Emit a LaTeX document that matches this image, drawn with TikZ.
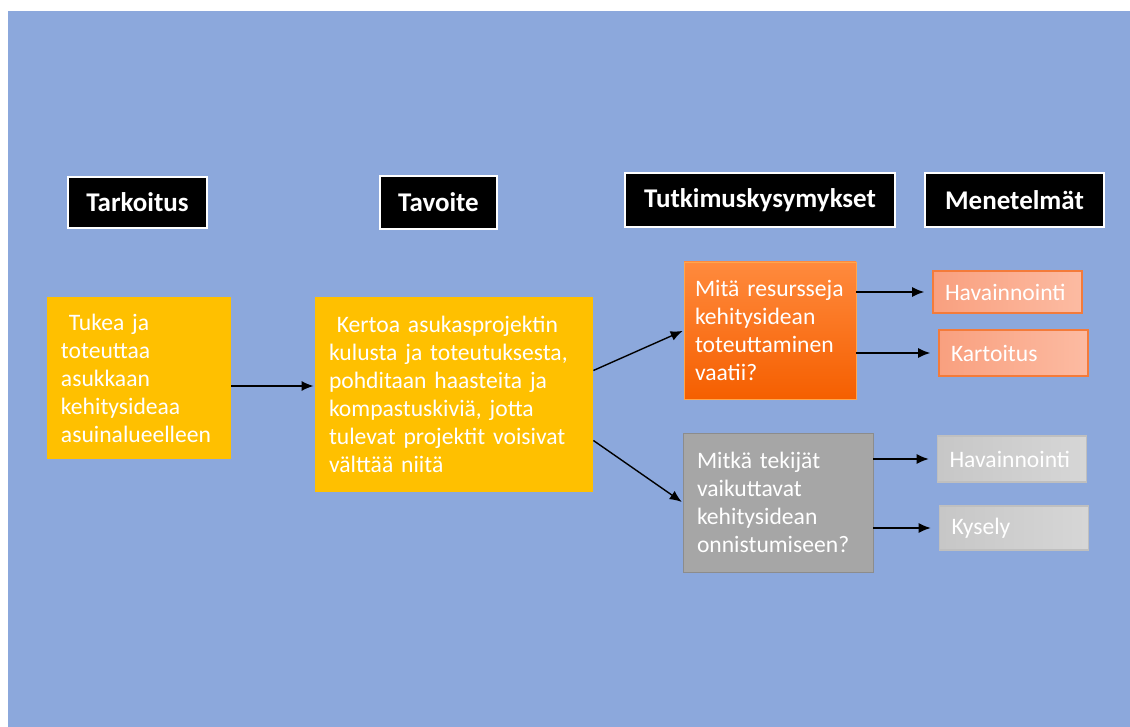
\documentclass[tikz,border=0pt]{standalone}
\usepackage{fontspec}
\setmainfont{Carlito}
\usepackage{tikz}
\usetikzlibrary{arrows,arrows.meta}
\usepackage{xcolor}
\definecolor{bgblue}{HTML}{8CA8DC}
\definecolor{gold}{HTML}{FFC000}
\definecolor{orangetop}{HTML}{FF8A3D}
\definecolor{orangebot}{HTML}{F55F00}
\definecolor{salmonl}{HTML}{F9A07F}
\definecolor{salmonr}{HTML}{FCBBA2}
\definecolor{salmonline}{HTML}{F47B3A}

\begin{document}
\begin{tikzpicture}[x=0.5pt,y=-0.5pt,
	header/.style={draw=white,line width=1pt,fill=black,text=white,inner sep=0pt,
		font=\bfseries\fontsize{13.5}{15}\selectfont},
	textbox/.style={inner xsep=7pt,inner ysep=0pt,align=left,text=white,
		font=\fontsize{11.8}{14}\selectfont},
	goalbox/.style={textbox,fill=gold},
	methodbox/.style={textbox,inner xsep=6pt,line width=0.8pt,minimum height=22pt,text width=62.5pt},
	link/.style={-{Latex[length=6pt,width=5pt]},line width=0.7pt,shorten >=0.5pt},
	methodlink/.style={link,shorten >=4pt}]
\useasboundingbox (0,0) rectangle (1130,727);
\fill[bgblue] (8,11) rectangle (1130,727);

% otsikot
\node [header,minimum width=69.5pt,minimum height=25.5pt] (tarkoitus) at (137.5,202.5) {Tarkoitus};
\node [header,minimum width=58.5pt,minimum height=26.5pt] (tavoite) at (438.5,202.5) {Tavoite};
\node [header,minimum width=135pt,minimum height=27pt] (kysymykset) at (760,200) {Tutkimuskysymykset};
\node [header,minimum width=89.5pt,minimum height=27pt] (menetelmat) at (1014.5,200) {Menetelmät};

% laatikot
\node [goalbox,text width=78pt,minimum height=81pt] (tukea) at (139,378)
	{\ Tukea ja\\toteuttaa\\asukkaan\\kehitysideaa\\asuinalueelleen};
\node [goalbox,text width=125pt,minimum height=97.5pt] (kertoa) at (454,394.5)
	{\ Kertoa asukasprojektin\\kulusta ja toteutuksesta,\\pohditaan haasteita ja\\kompastuskiviä, jotta\\tulevat projektit voisivat\\välttää niitä};
\node [textbox,inner xsep=5.5pt,draw=orange!70,top color=orangetop,bottom color=orangebot,text width=75pt,minimum height=68.5pt] (resurssit) at (770,330.5)
	{Mitä resursseja\\kehitysidean\\toteuttaminen\\vaatii?};
\node [textbox,draw=black!45,fill=black!35,text width=81pt,minimum height=69.5pt] (tekijat) at (778,502.5)
	{Mitkä tekijät\\vaikuttavat\\kehitysidean\\onnistumiseen?};

% menetelmät
\node [methodbox,draw=salmonline,left color=salmonl,right color=salmonr,minimum height=21pt] (hav1) at (1007.5,292) {Havainnointi};
\node [methodbox,draw=salmonline,left color=salmonl,right color=salmonr,minimum height=23pt] (kartoitus) at (1013.5,353) {Kartoitus};
\node [methodbox,draw=black!25,left color=black!22,right color=black!16,minimum height=23pt] (hav2) at (1012,459) {Havainnointi};
\node [methodbox,draw=black!25,left color=black!22,right color=black!16] (kysely) at (1014,528) {Kysely};

% nuolet
\draw [link] ([yshift=-4pt]tukea.east) -- ([yshift=-4pt]tukea.east -| kertoa.west);
\draw [link] ([yshift=12pt]kertoa.east) -- (resurssit.west);
\draw [link] ([yshift=-23pt]kertoa.east) -- (tekijat.west);
\draw [methodlink] (resurssit.east |- hav1.west) -- (hav1.west);
\draw [methodlink] (resurssit.east |- kartoitus.west) -- (kartoitus.west);
\draw [methodlink] (tekijat.east |- hav2.west) -- (hav2.west);
\draw [methodlink] (tekijat.east |- kysely.west) -- (kysely.west);
\end{tikzpicture}
\end{document}
